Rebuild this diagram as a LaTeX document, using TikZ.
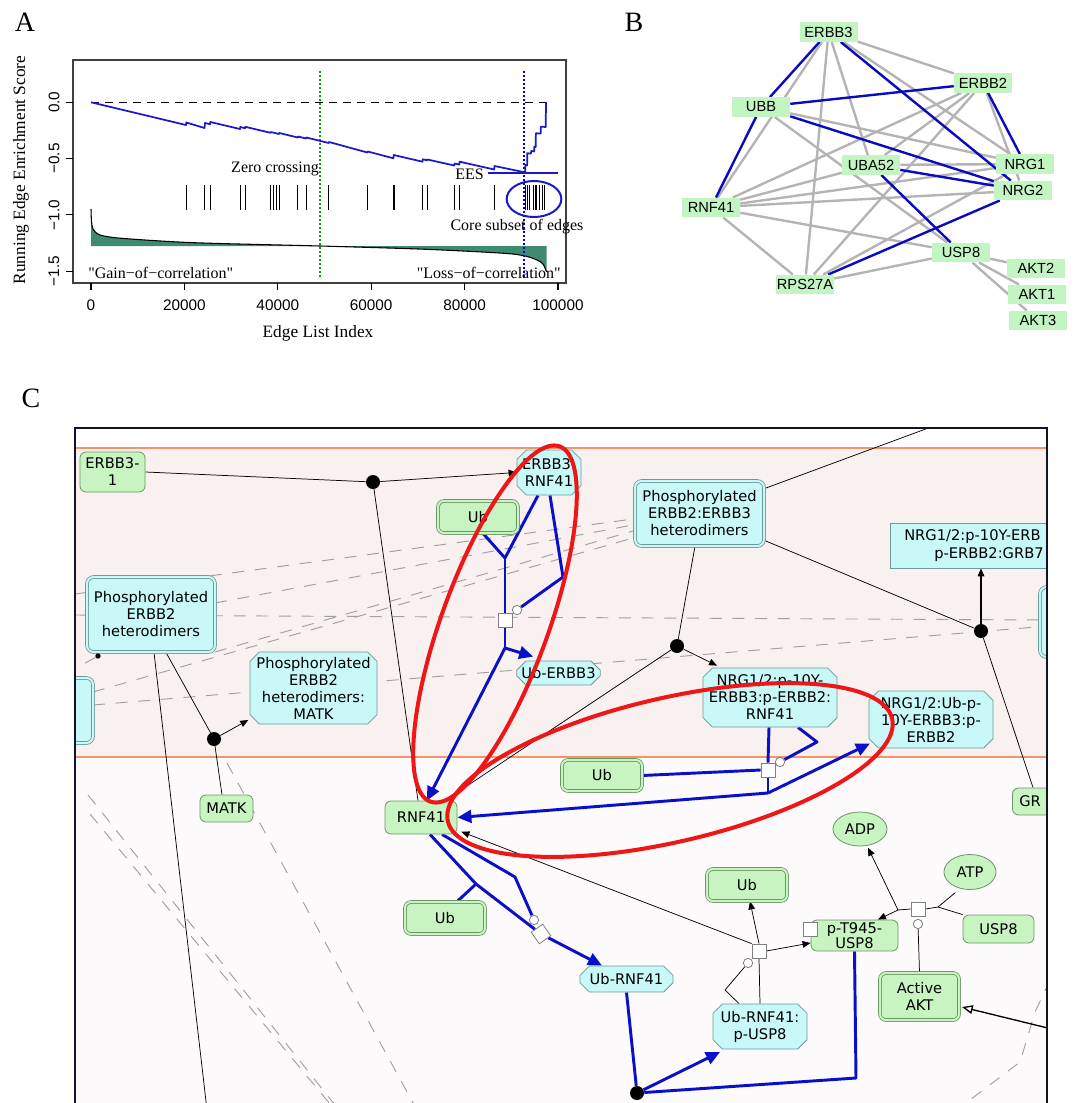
\documentclass[tikz,border=0pt]{standalone}
\usepackage{fontspec}
\setmainfont{Liberation Serif}
\newfontfamily\qserif{Liberation Serif}[Ligatures=TeXOff]
\newfontfamily\afont{Liberation Sans}
\newfontfamily\cfont{DejaVu Sans}
\usetikzlibrary{arrows.meta,shapes.misc,shapes.geometric}
\pgfdeclarelayer{bglayer}
\pgfdeclarelayer{linelayer}
\pgfdeclarelayer{toplayer}
\pgfsetlayers{bglayer,linelayer,main,toplayer}
\definecolor{runblue}{HTML}{1818CC}
\definecolor{tealg}{HTML}{3F8B6F}
\definecolor{bnode}{HTML}{C2F5C2}
\definecolor{bblue}{HTML}{0A0ABE}
\definecolor{bgrey}{HTML}{B4B4B4}
\definecolor{gfill}{HTML}{C8F4C2}
\definecolor{gborder}{HTML}{6F9468}
\definecolor{cfill}{HTML}{C8F8F8}
\definecolor{cborder}{HTML}{6F9A9A}
\definecolor{cblue}{HTML}{0A10C8}
\definecolor{redl}{HTML}{EE1616}
\definecolor{orangel}{HTML}{F3946A}
\definecolor{bandf}{HTML}{F8F1EF}
\definecolor{lowf}{HTML}{FCFAFA}
\definecolor{dashg}{HTML}{A0A0A0}
\definecolor{framec}{HTML}{12122A}
\tikzset{
 bnodestyle/.style={fill=bnode, inner sep=0pt, minimum width=43.5pt, minimum height=14.6pt, font=\afont\fontsize{11}{13}\selectfont},
 greyE/.style={draw=bgrey, line width=1.8pt},
 blueE/.style={draw=bblue, line width=1.8pt},
 ctext/.style={font=\cfont\fontsize{11}{12.75}\selectfont, align=center, inner sep=0pt},
 prot/.style={ctext, draw=gborder, fill=gfill, rounded corners=4.5pt, line width=0.6pt},
 protset/.style={prot, double=gfill, double distance=1.5pt},
 cplx/.style={ctext, chamfered rectangle, chamfered rectangle xsep=3.5pt, chamfered rectangle ysep=3.5pt, draw=cborder, fill=cfill, line width=0.6pt},
 cplxset/.style={ctext, draw=cborder, fill=cfill, double=cfill, double distance=1.5pt, rounded corners=5pt, line width=0.6pt},
 smol/.style={ctext, ellipse, draw=gborder, fill=gfill, line width=0.6pt},
 blk/.style={circle, fill=black, inner sep=0pt, minimum size=10.5pt},
 procsq/.style={rectangle, draw=gray, fill=white, inner sep=0pt, minimum size=10.5pt, line width=0.6pt},
 catc/.style={circle, draw=gray, fill=white, inner sep=0pt, minimum size=7pt, line width=0.6pt},
 thinl/.style={draw=black, line width=0.55pt},
 bluel/.style={draw=cblue, line width=2.2pt, line join=round},
 dashl/.style={draw=dashg, line width=0.7pt, dash pattern=on 9pt off 8pt},
 arrB/.style={-{Triangle[length=10.5pt,width=9.5pt]}},
 arrK/.style={-{Triangle[length=6pt,width=5pt]}},
 redring/.style={draw=redl, line width=3pt},
 axlab/.style={font=\afont\fontsize{11.5}{12}\selectfont, inner sep=0pt},
 sertext/.style={font=\fontsize{12}{12}\selectfont, inner sep=0pt},
}
\begin{document}
\begin{tikzpicture}[x=0.75pt,y=-0.75pt]
\useasboundingbox (0,0) rectangle (1072,1103);

%%%%%%%%%%%%%%%% Panel A
\node[font=\fontsize{21}{21}\selectfont] (labA) at (25,22) {A};
\fill[tealg] plot[smooth,tension=0.5] coordinates {(91,209) (91.5,222) (93,229) (97,233.5) (104,236) (124,238.5) (194,242.7) (320,246) (426,249.3) (504,253.3) (525,256) (537,260) (543,264) (546.5,272)} -- (546.5,246) -- (91,246) -- cycle;
\draw[black, line width=0.8pt] plot[smooth,tension=0.5] coordinates {(91,209) (91.5,222) (93,229) (97,233.5) (104,236) (124,238.5) (194,242.7) (320,246) (426,249.3) (504,253.3) (525,256) (537,260) (543,264) (546.5,272)};
\draw[black, line width=1.1pt, dash pattern=on 6pt off 4.5pt] (91,102.3) -- (546.5,102.3);
\draw[green!65!black, line width=1.3pt, dash pattern=on 1.5pt off 1.5pt] (320,71) -- (320,277);
\draw[blue!85!black, line width=1.3pt, dash pattern=on 1.5pt off 1.5pt] (524,71) -- (524,277);
\foreach \t in {186,204.7,210,240.3,245,270.5,273.3,276,279,297.7,306.2,328.7,367.4,393.4,394.6,422.5,427.1,454.3,459.3,494.2,525.2,527.1,529,533,534.9,536.8,539.5,541.9,544.6}
  \draw[black, line width=0.6pt] (\t,185) -- (\t,210);
\draw[runblue, line width=1.3pt, line join=round] plot coordinates {(91,102.3) (186,125) (186.3,122.5) (204.5,128) (205,123) (210,124.2) (210.3,122) (240,129) (240.3,127) (245,128.2) (245.3,126.8) (270.5,132.8) (270.8,132) (279,134) (279.3,133) (297.7,137.5) (298,136.5) (306,138.5) (306.3,137.5) (328.7,143) (329,142) (367.4,152.5) (367.7,151.5) (393.4,158.3) (393.7,155) (422.5,161.7) (422.8,159.3) (427,160.3) (427.3,159.5) (454.3,165.5) (454.6,163.5) (459.3,164.5) (459.6,161.7) (494.2,169.5) (494.5,166) (523.3,172) (525.2,172.5) (525.4,165) (527.1,165.5) (527.3,153.3) (531,153.5) (531.2,151) (534.1,151.5) (534.3,146.7) (535.7,147) (535.9,133.3) (540.7,133.5) (540.9,126.7) (545.7,127) (546,103) (546.5,102.3)};
\draw[runblue, line width=1.5pt] (487.6,172.7) -- (558,172.7);
\draw[runblue, line width=1.5pt] (534,199) ellipse [x radius=20.5pt, y radius=13.5pt];
\draw[line width=1.1pt, draw=black!75] (73,60) rectangle (566,283);
\foreach \yy in {102.3,158.6,214.9,271.2} \draw[line width=0.8pt] (73,\yy) -- (66,\yy);
\foreach \xx in {91,184.4,277.8,371.2,464.6,558} \draw[line width=0.8pt] (\xx,283) -- (\xx,290);
\node[axlab, rotate=90] (yta) at (54,102.3) {0.0};
\node[axlab, rotate=90] (ytb) at (54,158.6) {−0.5};
\node[axlab, rotate=90] (ytc) at (54,214.9) {−1.0};
\node[axlab, rotate=90] (ytd) at (54,271.2) {−1.5};
\node[axlab] (xta) at (91,305) {0};
\node[axlab] (xtb) at (184.4,305) {20000};
\node[axlab] (xtc) at (277.8,305) {40000};
\node[axlab] (xtd) at (371.2,305) {60000};
\node[axlab] (xte) at (464.6,305) {80000};
\node[axlab] (xtf) at (558,305) {100000};
\node[font=\fontsize{13}{13}\selectfont, rotate=90, inner sep=0pt] (ylab) at (21,170) {Running Edge Enrichment Score};
\node[font=\fontsize{13}{13}\selectfont, inner sep=0pt] (xlab) at (318,333) {Edge List Index};
\node[sertext] (zc) at (275,169) {Zero crossing};
\node[sertext, anchor=east] (ees) at (484,174) {EES};
\node[sertext] (core) at (517,227) {Core subset of edges};
\node[sertext, font=\qserif\fontsize{12}{12}\selectfont, anchor=west] (gain) at (88,273) {"Gain−of−correlation"};
\node[sertext, font=\qserif\fontsize{12}{12}\selectfont, anchor=east] (loss) at (561,273) {"Loss−of−correlation"};

%%%%%%%%%%%%%%%% Panel B
\node[font=\fontsize{21}{21}\selectfont] (labB) at (634,22) {B};
\node[bnodestyle] (bE3) at (828.5,32) {ERBB3};
\node[bnodestyle] (bE2) at (983,83) {ERBB2};
\node[bnodestyle] (bUBB) at (761,107) {UBB};
\node[bnodestyle] (bUBA) at (871,165) {UBA52};
\node[bnodestyle] (bN1) at (1025,164) {NRG1};
\node[bnodestyle] (bN2) at (1023,190.5) {NRG2};
\node[bnodestyle] (bRNF) at (711,207.5) {RNF41};
\node[bnodestyle] (bUSP) at (961,252.5) {USP8};
\node[bnodestyle] (bRPS) at (805,284.5) {RPS27A};
\node[bnodestyle] (bAK2) at (1036,268.5) {AKT2};
\node[bnodestyle] (bAK1) at (1037,294.5) {AKT1};
\node[bnodestyle] (bAK3) at (1038,320.5) {AKT3};
\begin{pgfonlayer}{linelayer}
\foreach \a/\b in {bE3/bE2, bE3/bRNF, bE3/bRPS, bE3/bUBA, bE3/bN1, bUBB/bN1, bUBB/bUSP, bE2/bRNF, bE2/bUBA, bE2/bRPS, bE2/bN2, bRNF/bN1, bRNF/bN2, bRNF/bUBA, bRNF/bUSP, bRNF/bRPS, bUBA/bN1, bRPS/bUSP, bRPS/bN1, bUSP/bAK2, bUSP/bAK1, bUSP/bAK3}
  \draw[greyE] (\a) -- (\b);
\foreach \a/\b in {bE3/bUBB, bUBB/bRNF, bUBB/bE2, bE3/bN2, bUBB/bN2, bUBA/bN2, bE2/bN1, bUBA/bUSP, bN2/bRPS}
  \draw[blueE] (\a) -- (\b);
\end{pgfonlayer}

%%%%%%%%%%%%%%%% Panel C
\node[font=\fontsize{21}{21}\selectfont] (labC) at (31,398) {C};
\begin{pgfonlayer}{bglayer}
\fill[white] (75,428) rectangle (1047,448);
\fill[bandf] (75,448) rectangle (1047,757);
\fill[lowf] (75,757) rectangle (1047,1103);
\draw[orangel, line width=1.5pt] (75,448) -- (1047,448);
\draw[orangel, line width=1.5pt] (75,757) -- (1047,757);
\end{pgfonlayer}

\begin{scope}
\clip (75,428) rectangle (1047,1103);
\node[prot, minimum width=48.75pt, minimum height=30pt] (erbbone) at (112.5,472) {ERBB3-\\1};
\node[cplx, minimum width=48pt, minimum height=33.75pt] (erbrnf) at (549,472.5) {ERBB3:\\RNF41};
\node[protset, minimum width=60pt, minimum height=24pt] (ubA) at (478,517) {Ub};
\node[cplxset, minimum width=96.75pt, minimum height=48.75pt] (pee) at (699.5,513.5) {Phosphorylated\\ERBB2:ERBB3\\heterodimers};
\node[cplx, minimum width=142.5pt, minimum height=33.75pt] (nrgGRB) at (985,545.5) {};
\node[ctext, anchor=west] (nrgGRBa) at (904,537) {NRG1/2:p-10Y-ERB};
\node[ctext, anchor=west] (nrgGRBb) at (934,555) {p-ERBB2:GRB7};
\node[cplxset, minimum width=96pt, minimum height=56.25pt] (pehL) at (151,614.5) {Phosphorylated\\ERBB2\\heterodimers};
\node[cplxset, minimum width=39.75pt, minimum height=48.75pt] (leftbox) at (66.5,710.5) {};
\node[cplx, minimum width=95.25pt, minimum height=54pt] (matkC) at (313.5,688) {Phosphorylated\\ERBB2\\heterodimers:\\MATK};
\node[cplx, minimum width=62.25pt, minimum height=18pt] (ubERBB3) at (558.5,673) {Ub-ERBB3};
\node[cplx, minimum width=100.5pt, minimum height=44.25pt] (nrgRNF) at (770,697.5) {NRG1/2:p-10Y-\\ERBB3:p-ERBB2:\\RNF41};
\node[cplx, minimum width=93pt, minimum height=42.75pt] (nrgUb) at (931,719.5) {NRG1/2:Ub-p-\\10Y-ERBB3:p-\\ERBB2};
\node[cplxset, minimum width=37.5pt, minimum height=52.5pt] (rightbox) at (1065,622) {};
\node[prot, minimum width=41.25pt, minimum height=20.25pt] (grBox) at (1040,801.5) {};
\node[ctext, anchor=west] (grText) at (1019,801.5) {GR};
\node[prot, minimum width=39.75pt, minimum height=20.25pt] (matk) at (226.5,808.5) {MATK};
\node[prot, minimum width=54pt, minimum height=24.75pt] (rnf) at (421,817.5) {RNF41};
\node[protset, minimum width=60pt, minimum height=24pt] (ubB) at (445,918) {Ub};
\node[protset, minimum width=60pt, minimum height=23.25pt] (ubC) at (602,775.5) {Ub};
\node[protset, minimum width=60pt, minimum height=24pt] (ubD) at (747,885) {Ub};
\node[smol, minimum width=40.5pt, minimum height=25.5pt] (adp) at (860,829) {ADP};
\node[smol, minimum width=39pt, minimum height=26.25pt] (atp) at (970,872) {ATP};
\node[prot, minimum width=53.25pt, minimum height=21pt] (usp8) at (998.5,929) {USP8};
\node[prot, minimum width=65.25pt, minimum height=23.25pt, font=\cfont\fontsize{11}{11.5}\selectfont] (pT945) at (854.5,935.5) {p-T945-\\USP8};
\node[procsq] (pTsq) at (810,929) {};
\node[protset, minimum width=59.25pt, minimum height=35.25pt] (akt) at (919.5,996.5) {Active\\AKT};
\node[cplx, minimum width=69.75pt, minimum height=19.5pt] (ubRNF) at (626.5,979) {Ub-RNF41};
\node[cplx, minimum width=70.5pt, minimum height=33.75pt] (ubRNFusp) at (760,1026.5) {Ub-RNF41:\\p-USP8};
\node[blk] (d1) at (373,482) {};
\node[blk] (d2) at (214,739) {};
\node[blk] (d3) at (677,646) {};
\node[blk] (d4) at (981,631) {};
\node[blk] (d5) at (637,1093) {};
\node[blk, minimum size=4pt] (sdot) at (98,656) {};
\node[procsq] (sq1) at (505,620) {};
\node[catc] (circ1) at (517,610) {};
\node[procsq] (sq2) at (768,770) {};
\node[catc] (circ2) at (780,762) {};
\node[procsq, rotate=35] (sq3) at (541,934) {};
\node[catc] (circ3) at (534,920) {};
\node[procsq] (sq4) at (759,951) {};
\node[catc] (circ4) at (748,963) {};
\node[procsq] (sq5) at (918,909) {};
\node[catc] (circ5) at (918,924) {};
\end{scope}

\coordinate (j1a) at (505,558);
\coordinate (k1) at (563,577);
\coordinate (j1b) at (505,648);
\coordinate (j2) at (768,793);
\coordinate (k2) at (817,742);
\coordinate (j3) at (476,884);
\coordinate (k3) at (515,877);
\coordinate (k5) at (856,1078);
\coordinate (k4a) at (725,990);
\coordinate (k5a) at (898,910);
\coordinate (k5b) at (938,907);
\coordinate (cb1) at (207,1110);
\coordinate (ctop) at (950,420);
\coordinate (cR) at (1060,1031);
\coordinate (h1a) at (75,615);   \coordinate (h1b) at (1048,620);
\coordinate (s1a) at (75,594);   \coordinate (s1b) at (633,519);
\coordinate (s2a) at (215,603);  \coordinate (s2b) at (633,525);
\coordinate (s3a) at (215,652);  \coordinate (s3b) at (633,531);
\coordinate (s4a) at (93,692);   \coordinate (s4b) at (633,538);
\coordinate (s5a) at (93,705);   \coordinate (s5b) at (1048,626);
\coordinate (sdl) at (76,668);
\coordinate (dd1a) at (88,795);  \coordinate (dd1b) at (339,1110);
\coordinate (dd2a) at (90,814);  \coordinate (dd2b) at (335,1110);
\coordinate (dd3a) at (227,763); \coordinate (dd3b) at (417,1110);
\coordinate (dd4a) at (1050,980); \coordinate (dd4b) at (1035,1012); \coordinate (dd4c) at (1020,1062); \coordinate (dd4d) at (962,1106);

\begin{pgfonlayer}{linelayer}
\begin{scope}
\clip (75,428) rectangle (1047,1103);
\draw[dashl] (h1a) -- (h1b);
\draw[dashl] (s1a) -- (s1b);
\draw[dashl] (s2a) -- (s2b);
\draw[dashl] (s3a) -- (s3b);
\draw[dashl] (s4a) -- (s4b);
\draw[dashl] (s5a) -- (s5b);
\draw[dashl] (sdot) -- (sdl);
\draw[dashl] (dd1a) -- (dd1b);
\draw[dashl] (dd2a) -- (dd2b);
\draw[dashl] (dd3a) -- (dd3b);
\draw[dashl] (dd4a) -- (dd4b) -- (dd4c) -- (dd4d);
\draw[thinl] (erbbone.east) -- (d1);
\draw[thinl, arrK] (d1) -- (erbrnf.west);
\draw[thinl] (d1) -- ([xshift=-2.25pt]rnf.north);
\draw[thinl] ([yshift=-6pt]pee.north east) -- (ctop);
\draw[thinl] ([yshift=4.5pt]pee.south east) -- (d4);
\draw[thinl, line width=0.9pt, arrK] (d4) -- ([xshift=-3pt]nrgGRB.south);
\draw[thinl] (d4) -- ([xshift=-5.25pt]grBox.north);
\draw[thinl] ([xshift=-3.4pt]pee.south) -- (d3);
\draw[thinl, arrK] (d3) -- ([xshift=-39.75pt,yshift=1.5pt]nrgRNF.north);
\draw[thinl] (d3) -- ([xshift=18pt]rnf.north);
\draw[thinl] ([xshift=2.25pt]pehL.south) -- (cb1);
\draw[thinl] ([xshift=11.25pt]pehL.south) -- (d2);
\draw[thinl, arrK] (d2) -- ([xshift=-1pt,yshift=-24pt]matkC.west);
\draw[thinl] (d2) -- ([xshift=-3.4pt]matk.north);
\draw[thinl, arrK] (sq4.north) -- ([xshift=2.25pt]ubD.south);
\draw[thinl, arrK] (sq4.east) -- ([yshift=-5.6pt]pT945.west);
\draw[thinl] (ubRNFusp.north) -- (sq4.south);
\draw[thinl] (circ4) -- (k4a) -- ([xshift=-15.75pt]ubRNFusp.north);
\draw[thinl, arrK] (sq4.north west) -- ([xshift=3pt,yshift=2pt]rnf.south east);
\draw[thinl] (sq5.west) -- (k5a);
\draw[thinl, arrK] (k5a) -- ([xshift=17.6pt]pT945.north);
\draw[thinl, arrK] (k5a) -- ([xshift=6pt,yshift=-1pt]adp.south);
\draw[thinl] (sq5.east) -- (k5b);
\draw[thinl] (k5b) -- ([xshift=-11pt,yshift=-2pt]atp.south);
\draw[thinl] (k5b) -- (usp8.north west);
\draw[thinl] (circ5) -- (akt.north);
\draw[thinl, line width=1pt, -{Triangle[open,length=8pt,width=6.5pt]}] (cR) -- ([xshift=2pt,yshift=-7.9pt]akt.east);
\draw[bluel] ([xshift=-8.25pt]erbrnf.south) -- (j1a);
\draw[bluel] ([xshift=3.75pt]ubA.south) -- (j1a);
\draw[bluel] (j1a) -- (sq1.north);
\draw[bluel] (circ1) -- (k1) -- ([xshift=0.75pt]erbrnf.south);
\draw[bluel] (sq1.south) -- (j1b);
\draw[bluel, arrB] (j1b) -- ([xshift=-19pt,yshift=3pt]ubERBB3.north);
\draw[bluel, arrB] (j1b) -- ([xshift=4.5pt]rnf.north);
\draw[bluel] ([xshift=-0.75pt]nrgRNF.south) -- (sq2.north);
\draw[bluel] (ubC.east) -- (sq2.west);
\draw[bluel] (circ2) -- (k2) -- ([xshift=21pt]nrgRNF.south);
\draw[bluel] (sq2.south) -- (j2);
\draw[bluel, arrB] (j2) -- ([xshift=1pt,yshift=-18pt]nrgUb.west);
\draw[bluel, arrB] (j2) -- (rnf.east);
\draw[bluel] ([xshift=6.75pt]rnf.south) -- (j3) -- (sq3);
\draw[bluel] ([xshift=9pt]ubB.north) -- (j3);
\draw[bluel] ([xshift=15.75pt]rnf.south) -- (k3) -- (circ3);
\draw[bluel, arrB] (sq3) -- ([xshift=-18.4pt]ubRNF.north);
\draw[bluel] (ubRNF.south) -- (d5);
\draw[bluel] (pT945.south) -- (k5) -- (d5);
\draw[bluel, arrB] (d5) -- ([xshift=-30pt,yshift=-2pt]ubRNFusp.south);
\end{scope}
\end{pgfonlayer}

\begin{pgfonlayer}{toplayer}
\draw[redring, rotate around={70:(495,624)}] (495,624) ellipse [x radius=141.75pt, y radius=40pt];
\draw[redring, rotate around={13:(670,770)}] (670,770) ellipse [x radius=171pt, y radius=54pt];
\draw[framec, line width=2.2pt] (75,1104) -- (75,428) -- (1047,428) -- (1047,1104);
\end{pgfonlayer}
\end{tikzpicture}
\end{document}
